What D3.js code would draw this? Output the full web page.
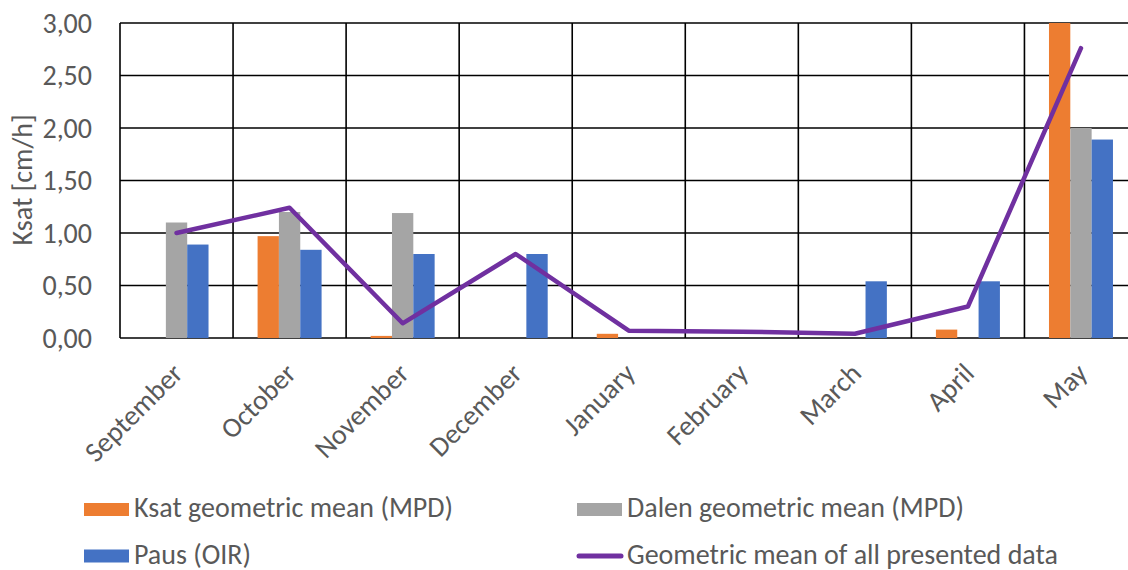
<!DOCTYPE html>
<html>
<head>
<meta charset="utf-8">
<script src="https://cdn.jsdelivr.net/npm/d3@7"></script>
<style>
  html, body { margin: 0; padding: 0; background: #fff; }
  svg { display: block; }
  text { font-family: Carlito, "Liberation Sans Narrow", "Arial Narrow", Lato, "Open Sans", sans-serif; fill: #595959; }
</style>
</head>
<body>
<svg id="chart" width="1128" height="570"></svg>
<script>
// Monthly saturated hydraulic conductivity, cm/h
const months = ["September", "October", "November", "December", "January", "February", "March", "April", "May"];
const ksatMPD  = [null, 0.97, 0.02, null, 0.04, null, null, 0.08, 3.00];
const dalenMPD = [1.10, 1.20, 1.19, null, null, null, null, null, 2.00];
const pausOIR  = [0.89, 0.84, 0.80, 0.80, null, null, 0.54, 0.54, 1.89];
const geoMeanAll = [1.00, 1.24, 0.14, 0.80, 0.07, 0.06, 0.04, 0.30, 2.76];
const yTicks = [0, 0.5, 1, 1.5, 2, 2.5, 3];

const seriesNames = ["Ksat geometric mean (MPD)", "Dalen geometric mean (MPD)", "Paus (OIR)"];
const seriesColors = ["#ED7D31", "#A5A5A5", "#4472C4"];
const lineName = "Geometric mean of all presented data";
const lineColor = "#7030A0";

const barSeries = [ksatMPD, dalenMPD, pausOIR];

const svg = d3.select("#chart");
const plot = { left: 120, right: 1137.5, top: 23, bottom: 338 };
const fontSize = "28px";

const x = d3.scaleBand().domain(months).range([plot.left, plot.right]).padding(0);
const xs = d3.scaleBand().domain(d3.range(3)).range([0, x.bandwidth()])
  .paddingInner(0).paddingOuter(1.15);
const y = d3.scaleLinear().domain([0, 3]).range([plot.bottom, plot.top]);

const fmt = v => d3.format(".2f")(v).replace(".", ",");

// Horizontal gridlines
svg.append("g").selectAll("line").data(yTicks).join("line")
  .attr("x1", plot.left).attr("x2", plot.right)
  .attr("y1", d => y(d)).attr("y2", d => y(d))
  .attr("stroke", "#000").attr("stroke-width", 1.6);

// Vertical gridlines at category boundaries
const bounds = months.map(m => x(m)).concat([plot.right]);
svg.append("g").selectAll("line").data(bounds).join("line")
  .attr("x1", d => d).attr("x2", d => d)
  .attr("y1", plot.top).attr("y2", plot.bottom)
  .attr("stroke", "#000").attr("stroke-width", 1.6);

// Y axis tick labels
svg.append("g").selectAll("text").data(yTicks).join("text")
  .attr("x", 92).attr("y", d => y(d))
  .attr("dy", "0.35em")
  .attr("text-anchor", "end")
  .style("font-size", fontSize)
  .text(fmt);

// Y axis title
svg.append("text")
  .attr("transform", `translate(32,180) rotate(-90)`)
  .attr("text-anchor", "middle")
  .style("font-size", fontSize)
  .text("Ksat [cm/h]");

// Bars
barSeries.forEach((vals, si) => {
  svg.append("g").selectAll("rect")
    .data(months.map((m, i) => ({ m, v: vals[i] })).filter(d => d.v != null))
    .join("rect")
    .attr("x", d => x(d.m) + xs(si))
    .attr("width", xs.bandwidth())
    .attr("y", d => y(d.v))
    .attr("height", d => y(0) - y(d.v))
    .attr("fill", seriesColors[si]);
});

// Geometric mean line
const line = d3.line()
  .x((d, i) => x(months[i]) + x.bandwidth() / 2)
  .y(d => y(d));
svg.append("path")
  .datum(geoMeanAll)
  .attr("d", line)
  .attr("fill", "none")
  .attr("stroke", lineColor)
  .attr("stroke-width", 4.5)
  .attr("stroke-linejoin", "round")
  .attr("stroke-linecap", "round");

// Category labels, rotated
svg.append("g").selectAll("text").data(months).join("text")
  .attr("transform", d => `translate(${x(d) + x.bandwidth() / 2 + 8},${375}) rotate(-45)`)
  .attr("text-anchor", "end")
  .style("font-size", fontSize)
  .text(d => d);

// Legend
const legendItems = [
  { name: seriesNames[0], color: seriesColors[0], type: "rect", x: 84, y: 509.5 },
  { name: seriesNames[1], color: seriesColors[1], type: "rect", x: 577, y: 509.5 },
  { name: seriesNames[2], color: seriesColors[2], type: "rect", x: 84, y: 556 },
  { name: lineName, color: lineColor, type: "line", x: 577, y: 556 }
];
const lg = svg.append("g").selectAll("g").data(legendItems).join("g")
  .attr("transform", d => `translate(${d.x},${d.y})`);
lg.filter(d => d.type === "rect").append("rect")
  .attr("x", 0).attr("y", -6.5).attr("width", 45).attr("height", 13)
  .attr("fill", d => d.color);
lg.filter(d => d.type === "line").append("line")
  .attr("x1", 2).attr("x2", 44).attr("y1", 0).attr("y2", 0)
  .attr("stroke", d => d.color).attr("stroke-width", 5).attr("stroke-linecap", "round");
lg.append("text")
  .attr("x", 50).attr("y", 7.5)
  .style("font-size", fontSize)
  .text(d => d.name);
</script>
</body>
</html>
